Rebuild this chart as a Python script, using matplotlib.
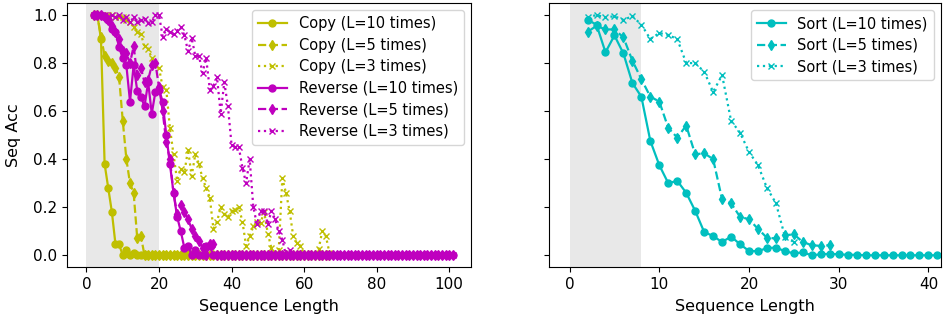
import numpy as np
import matplotlib
matplotlib.use('Agg')
import matplotlib.pyplot as plt


# sequence lengths
copy_len = list(range(2, 68))
reverse_len = list(range(2, 102))
sort_len_10 = list(range(2, 42))
sort_len_5 = list(range(2, 30))
sort_len_3 = list(range(2, 26))

# accuracy
copy_10 = [1.0, 1.0, 0.90, 0.38, 0.28, 0.18, 0.045, 0.045, 0.0, 0.02,
           0.0, 0.01, 0.0, 0.0, 0.0, 0.0, 0.0, 0.0, 0.0, 0.0,
           0.0, 0.0, 0.0, 0.0, 0.0, 0.0, 0.0, 0.0, 0.0, 0.0,
           0.0, 0.0, 0.0, 0.0, 0.0, 0.0, 0.0, 0.0, 0.0, 0.0,
           0.0, 0.0, 0.0, 0.0, 0.0, 0.0, 0.0, 0.0, 0.0, 0.0,
           0.0, 0.0, 0.0, 0.0, 0.0, 0.0, 0.0, 0.0, 0.0, 0.0,
           0.0, 0.0, 0.0, 0.0, 0.0, 0.0]
copy_5 = [1.0, 1.0, 0.91, 0.83, 0.81, 0.80, 0.78, 0.74, 0.56, 0.40,
          0.30, 0.26, 0.07, 0.08, 0.0, 0.0, 0.0, 0.0, 0.0, 0.0,
          0.0, 0.0, 0.0, 0.0, 0.0, 0.0, 0.0, 0.0, 0.0, 0.0,
          0.0, 0.0, 0.0, 0.0, 0.0, 0.0, 0.0, 0.0, 0.0, 0.0,
          0.0, 0.0, 0.0, 0.0, 0.0, 0.0, 0.0, 0.0, 0.0, 0.0,
          0.0, 0.0, 0.0, 0.0, 0.0, 0.0, 0.0, 0.0, 0.0, 0.0,
          0.0, 0.0, 0.0, 0.0, 0.0, 0.0]
copy_3 = [1.0, 1.0, 1.0, 1.0, 1.0, 1.0, 0.99, 0.99, 0.99, 0.98,
          0.97, 0.95, 0.93, 0.92, 0.87, 0.86, 0.82, 0.79, 0.78, 0.70,
          0.69, 0.53, 0.42, 0.31, 0.36, 0.345, 0.44, 0.33, 0.42, 0.38,
          0.32, 0.28, 0.24, 0.11, 0.14, 0.20, 0.17, 0.16, 0.185, 0.19,
          0.20, 0.14, 0.04, 0.08, 0.12, 0.14, 0.135, 0.18, 0.09, 0.03,
          0.0, 0.02, 0.32, 0.26, 0.185, 0.08, 0.05, 0.04, 0.0, 0.0,
          0.0, 0.0, 0.025, 0.10, 0.08, 0.01]

reverse_10 = [1.0, 1.0, 1.0, 0.99, 0.98, 0.94, 0.93, 0.865, 0.82, 0.79,
              0.64, 0.79, 0.685, 0.66, 0.62, 0.72, 0.59, 0.68, 0.69, 0.64,
              0.50, 0.38, 0.26, 0.16, 0.10, 0.03, 0.04, 0.0, 0.02, 0.0,
              0.0, 0.04, 0.04, 0.0, 0.0, 0.0, 0.0, 0.0, 0.0, 0.0,
              0.0, 0.0, 0.0, 0.0, 0.0, 0.0, 0.0, 0.0, 0.0, 0.0,
              0.0, 0.0, 0.0, 0.0, 0.0, 0.0, 0.0, 0.0, 0.0, 0.0,
              0.0, 0.0, 0.0, 0.0, 0.0, 0.0, 0.0, 0.0, 0.0, 0.0,
              0.0, 0.0, 0.0, 0.0, 0.0, 0.0, 0.0, 0.0, 0.0, 0.0,
              0.0, 0.0, 0.0, 0.0, 0.0, 0.0, 0.0, 0.0, 0.0, 0.0,
              0.0, 0.0, 0.0, 0.0, 0.0, 0.0, 0.0, 0.0, 0.0, 0.0]
reverse_5 = [1.0, 1.0, 1.0, 0.99, 0.98, 0.955, 0.93, 0.90, 0.85, 0.84,
             0.80, 0.87, 0.75, 0.78, 0.72, 0.73, 0.79, 0.80, 0.70, 0.60,
             0.47, 0.40, 0.26, 0.17, 0.21, 0.18, 0.15, 0.11, 0.08, 0.06,
             0.03, 0.0, 0.045, 0.045, 0.0, 0.0, 0.0, 0.0, 0.0, 0.0,
             0.0, 0.0, 0.0, 0.0, 0.0, 0.0, 0.0, 0.0, 0.0, 0.0,
             0.0, 0.0, 0.0, 0.0, 0.0, 0.0, 0.0, 0.0, 0.0, 0.0,
             0.0, 0.0, 0.0, 0.0, 0.0, 0.0, 0.0, 0.0, 0.0, 0.0,
             0.0, 0.0, 0.0, 0.0, 0.0, 0.0, 0.0, 0.0, 0.0, 0.0,
             0.0, 0.0, 0.0, 0.0, 0.0, 0.0, 0.0, 0.0, 0.0, 0.0,
             0.0, 0.0, 0.0, 0.0, 0.0, 0.0, 0.0, 0.0, 0.0, 0.0]
reverse_3 = [1.0, 1.0, 1.0, 1.0, 0.99, 1.0, 0.99, 1.0, 0.98, 0.99,
             0.97, 0.99, 0.97, 0.98, 0.985, 0.965, 0.97, 1.0, 1.0, 0.91,
             0.94, 0.93, 0.92, 0.935, 0.95, 0.915, 0.85, 0.905, 0.83, 0.83,
             0.76, 0.82, 0.69, 0.705, 0.74, 0.59, 0.72, 0.62, 0.46, 0.45,
             0.45, 0.365, 0.30, 0.40, 0.20, 0.13, 0.185, 0.185, 0.13, 0.185,
             0.15, 0.10, 0.065, 0.0, 0.02, 0.0, 0.0, 0.0, 0.0, 0.0,
             0.0, 0.0, 0.0, 0.0, 0.0, 0.0, 0.0, 0.0, 0.0, 0.0,
             0.0, 0.0, 0.0, 0.0, 0.0, 0.0, 0.0, 0.0, 0.0, 0.0,
             0.0, 0.0, 0.0, 0.0, 0.0, 0.0, 0.0, 0.0, 0.0, 0.0,
             0.0, 0.0, 0.0, 0.0, 0.0, 0.0, 0.0, 0.0, 0.0, 0.0]

sort_10 = [0.98, 0.96, 0.845, 0.915, 0.84, 0.717, 0.66, 0.476, 0.375, 0.30,
           0.31, 0.26, 0.185, 0.097, 0.08, 0.055, 0.078, 0.046, 0.018, 0.017,
           0.03, 0.032, 0.017, 0.008, 0.012, 0.0, 0.004, 0.006, 0.004, 0.002,
           0.002, 0.0, 0.0, 0.0, 0.0, 0.0, 0.0, 0.0, 0.0, 0.0]
sort_5 = [0.93, 0.955, 0.94, 0.94, 0.907, 0.81, 0.733, 0.66, 0.64, 0.53,
          0.49, 0.54, 0.42, 0.425, 0.40, 0.233, 0.217, 0.16, 0.15, 0.11,
          0.073, 0.07, 0.083, 0.0875, 0.055, 0.042, 0.039, 0.042]
sort_3 = [0.99, 1.0, 0.99, 0.995, 0.98, 0.995, 0.96, 0.90, 0.925, 0.917,
          0.90, 0.80, 0.80, 0.764, 0.68, 0.75, 0.56, 0.51, 0.43, 0.375,
          0.28, 0.217, 0.078, 0.055]

copy_shade = (0, 20)
sort_shade = (0, 8)

plt.rcParams['lines.linewidth'] = 1.6
plt.rcParams['lines.markersize'] = 5
plt.rcParams['axes.labelsize'] = 11.5
plt.rcParams['xtick.labelsize'] = 11
plt.rcParams['ytick.labelsize'] = 11
plt.rcParams['legend.fontsize'] = 10.5

fig = plt.figure(figsize=(9.46, 3.24), dpi=100)
ax1 = fig.add_axes([0.0711, 0.175, 0.4267, 0.8157])
ax2 = fig.add_axes([0.5803, 0.175, 0.4144, 0.8157], sharey=ax1)

# left panel: copy and reverse
ax1.axvspan(copy_shade[0], copy_shade[1], color='lightgray', alpha=0.5, lw=0)
ax1.plot(copy_len, copy_10, 'y-o', label='Copy (L=10 times)')
ax1.plot(copy_len, copy_5, 'y--d', label='Copy (L=5 times)')
ax1.plot(copy_len, copy_3, 'y:x', label='Copy (L=3 times)')
ax1.plot(reverse_len, reverse_10, 'm-o', label='Reverse (L=10 times)')
ax1.plot(reverse_len, reverse_5, 'm--d', label='Reverse (L=5 times)')
ax1.plot(reverse_len, reverse_3, 'm:x', label='Reverse (L=3 times)')
ax1.set_xlim(-5.3, 106.0)
ax1.set_ylim(-0.05, 1.05)
ax1.set_xticks([0, 20, 40, 60, 80, 100])
ax1.set_yticks([0.0, 0.2, 0.4, 0.6, 0.8, 1.0])
ax1.set_xlabel('Sequence Length', labelpad=5)
ax1.set_ylabel('Seq Acc', labelpad=9)
ax1.legend(loc='upper right', labelspacing=0.45)

# right panel: sort
ax2.axvspan(sort_shade[0], sort_shade[1], color='lightgray', alpha=0.5, lw=0)
ax2.plot(sort_len_10, sort_10, 'c-o', label='Sort (L=10 times)')
ax2.plot(sort_len_5, sort_5, 'c--d', label='Sort (L=5 times)')
ax2.plot(sort_len_3, sort_3, 'c:x', label='Sort (L=3 times)')
ax2.set_xlim(-2.3, 41.4)
ax2.set_xticks([0, 10, 20, 30, 40])
ax2.tick_params(labelleft=False)
ax2.set_xlabel('Sequence Length', labelpad=5)
ax2.legend(loc='upper right', labelspacing=0.45)

plt.savefig('out.png', dpi=100)
plt.close()
